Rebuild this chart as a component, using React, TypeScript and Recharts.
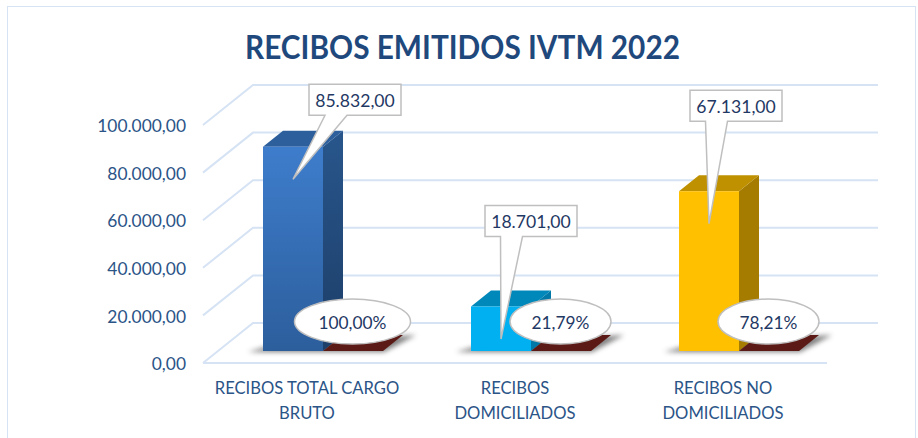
import React from "react";
import { BarChart, Bar, XAxis, YAxis, CartesianGrid, LabelList } from "recharts";

const categories = ["RECIBOS TOTAL CARGO BRUTO", "RECIBOS DOMICILIADOS", "RECIBOS NO DOMICILIADOS"];
const categoryLines = [["RECIBOS TOTAL CARGO", "BRUTO"], ["RECIBOS", "DOMICILIADOS"], ["RECIBOS NO", "DOMICILIADOS"]];
const recibos = [85832, 18701, 67131];
const porcentajes = [100.0, 21.79, 78.21];
const yTicks = [0, 20000, 40000, 60000, 80000, 100000];

const data = categories.map((name, i) => ({ name, recibos: recibos[i], porcentaje: porcentajes[i] / 100 }));

const FONT = "Lato, 'Open Sans', sans-serif";
const GRID = "#D6E3F4";
const W = 918;
const H = 438;
const FLOOR_Y = 363;
const BACK_DX = 50;
const BACK_DY = 40;
const BACK_RIGHT = 878;
const BAR_DX = 16;
const BAR_DY = 12;
const DEPTH_X = 20;
const DEPTH_Y = 16;

const faces = [
  { front: "url(#frontBlue)", top: "#2C5F9C", side: "url(#sideBlue)" },
  { front: "#00B0F0", top: "#0088BA", side: "#0079A8" },
  { front: "#FFC000", top: "#BF9000", side: "#A67C00" },
];
const calloutBox = [
  { dx: 16, dy: -62.5 },
  { dx: -16, dy: -101 },
  { dx: -19, dy: -101 },
];
const ellipseRx = [58, 50.5, 50.5];

const fmt = (v: number) =>
  v.toLocaleString("de-DE", { minimumFractionDigits: 2, maximumFractionDigits: 2 });
const fmtPct = (v: number) => fmt(v * 100) + "%";

const pts = (p: number[][]) => p.map((q) => q.join(",")).join(" ");

function GridLine(props: any) {
  const { x1, x2, y1 } = props;
  return (
    <g>
      <polyline
        points={pts([[x1, y1], [x1 + BACK_DX, y1 - BACK_DY], [BACK_RIGHT, y1 - BACK_DY]])}
        fill="none"
        stroke={GRID}
        strokeWidth={2}
      />
      {Math.abs(y1 - FLOOR_Y) < 0.5 && <line x1={x1} x2={x2} y1={y1} y2={y1} stroke={GRID} strokeWidth={2} />}
    </g>
  );
}

function ValueBar(props: any) {
  const { x, y, width, height, index } = props;
  const l = x + BAR_DX;
  const r = l + width;
  const t = y - BAR_DY;
  const b = t + height;
  const f = faces[index];
  return (
    <g>
      <polygon
        points={pts([[l - 15, b + 1], [r + width + 1, b + 1], [r + width + 33, b - DEPTH_Y], [l + 10, b - 6]])}
        fill="#555"
        opacity={0.75}
        filter="url(#softShadow)"
      />
      <polygon points={pts([[r, t], [r + DEPTH_X, t - DEPTH_Y], [r + DEPTH_X, b - DEPTH_Y], [r, b]])} fill={f.side} />
      <polygon points={pts([[l, t], [l + DEPTH_X, t - DEPTH_Y], [r + DEPTH_X, t - DEPTH_Y], [r, t]])} fill={f.top} />
      <rect x={l} y={t} width={width} height={height} fill={f.front} />
    </g>
  );
}

function PercentSlab(props: any) {
  const { x, y, width } = props;
  const l = x + BAR_DX;
  const r = l + width;
  const b = y - BAR_DY;
  return <polygon points={pts([[l, b], [l + DEPTH_X, b - DEPTH_Y], [r + DEPTH_X, b - DEPTH_Y], [r, b]])} fill="#5B1A15" />;
}

function Callout(props: any) {
  const { x, y, width, value, index } = props;
  const cx = x + BAR_DX + width / 2;
  const top = y - BAR_DY;
  const tipY = top + 32.5;
  const bx = cx + calloutBox[index].dx;
  const by = top + calloutBox[index].dy;
  const bw = 92;
  const bh = 31;
  const baseL = index === 0 ? bx + 16 : bx + 15.5;
  const baseR = baseL + 22;
  return (
    <g>
      <path
        d={`M${bx} ${by}H${bx + bw}V${by + bh}H${baseR}L${cx} ${tipY}L${baseL} ${by + bh}H${bx}Z`}
        fill="#fff"
        stroke="#BFBFBF"
        strokeWidth={1.5}
        strokeLinejoin="miter"
      />
      <text x={bx + bw / 2} y={by + bh / 2 + 1} textAnchor="middle" dominantBaseline="central" fontFamily={FONT} fontSize={17.6} fill="#1F3864">
        {fmt(value)}
      </text>
    </g>
  );
}

function PercentEllipse(props: any) {
  const { x, width, value, index } = props;
  const cx = x + BAR_DX + width / 2 - 0.5;
  const rx = ellipseRx[index];
  return (
    <g>
      <ellipse cx={cx} cy={321.5} rx={rx} ry={22.5} fill="#fff" stroke="#BFBFBF" strokeWidth={1.5} />
      <text x={cx} y={322} textAnchor="middle" dominantBaseline="central" fontFamily={FONT} fontSize={17.3} fill="#1F3864">
        {fmtPct(value)}
      </text>
    </g>
  );
}

function CategoryTick(props: any) {
  const { x, index } = props;
  const lines = categoryLines[index];
  return (
    <text textAnchor="middle" fontFamily={FONT} fontSize={16.6} fill="#2B5487">
      {lines.map((s, i) => (
        <tspan key={i} x={x} y={393.5 + i * 25}>
          {s}
        </tspan>
      ))}
    </text>
  );
}

export default function App() {
  return (
    <div style={{ position: "absolute", left: 0, top: 0, width: W, height: H, overflow: "hidden", background: "#fff" }}>
      <div
        style={{
          position: "absolute",
          left: 7,
          top: 6,
          width: 909,
          height: 460,
          border: "1.5px solid #D6E3F4",
          boxSizing: "border-box",
        }}
      />
      <div style={{ position: "absolute", left: 0, top: 0 }}>
        <BarChart
          width={W}
          height={H}
          data={data}
          margin={{ top: 125, right: 91, bottom: 45, left: 0 }}
          barSize={60}
          barGap={0}
        >
          <defs>
            <linearGradient id="frontBlue" x1="0" y1="0" x2="0" y2="1">
              <stop offset="0" stopColor="#3E7DCC" />
              <stop offset="1" stopColor="#2C5E9C" />
            </linearGradient>
            <linearGradient id="sideBlue" x1="0" y1="0" x2="0" y2="1">
              <stop offset="0" stopColor="#28568C" />
              <stop offset="1" stopColor="#1D3E68" />
            </linearGradient>
            <filter id="softShadow" x="-20%" y="-100%" width="140%" height="300%">
              <feGaussianBlur stdDeviation="2.5" />
            </filter>
          </defs>
          <text
            x={462.5}
            y={46}
            textAnchor="middle"
            dominantBaseline="central"
            fontFamily={FONT}
            fontWeight={700}
            fontSize={32}
            fill="#1F497D"
            textLength={435}
            lengthAdjust="spacingAndGlyphs"
          >
            RECIBOS EMITIDOS IVTM 2022
          </text>
          <CartesianGrid vertical={false} horizontal={(p: any) => <GridLine key={p.key} {...p} />} />
          <XAxis dataKey="name" interval={0} axisLine={false} tickLine={false} height={30} tick={<CategoryTick />} />
          <YAxis
            domain={[0, 100000]}
            ticks={yTicks}
            width={203}
            axisLine={false}
            tickLine={false}
            tickSize={0}
            tickMargin={17}
            tickFormatter={fmt}
            tick={{ fontFamily: FONT, fontSize: 17.4, fill: "#2B5487", dy: 1 }}
          />
          <Bar dataKey="recibos" shape={<ValueBar />} isAnimationActive={false}>
            <LabelList dataKey="recibos" content={<Callout />} />
          </Bar>
          <Bar dataKey="porcentaje" shape={<PercentSlab />} isAnimationActive={false}>
            <LabelList dataKey="porcentaje" content={<PercentEllipse />} />
          </Bar>
        </BarChart>
      </div>
    </div>
  );
}
